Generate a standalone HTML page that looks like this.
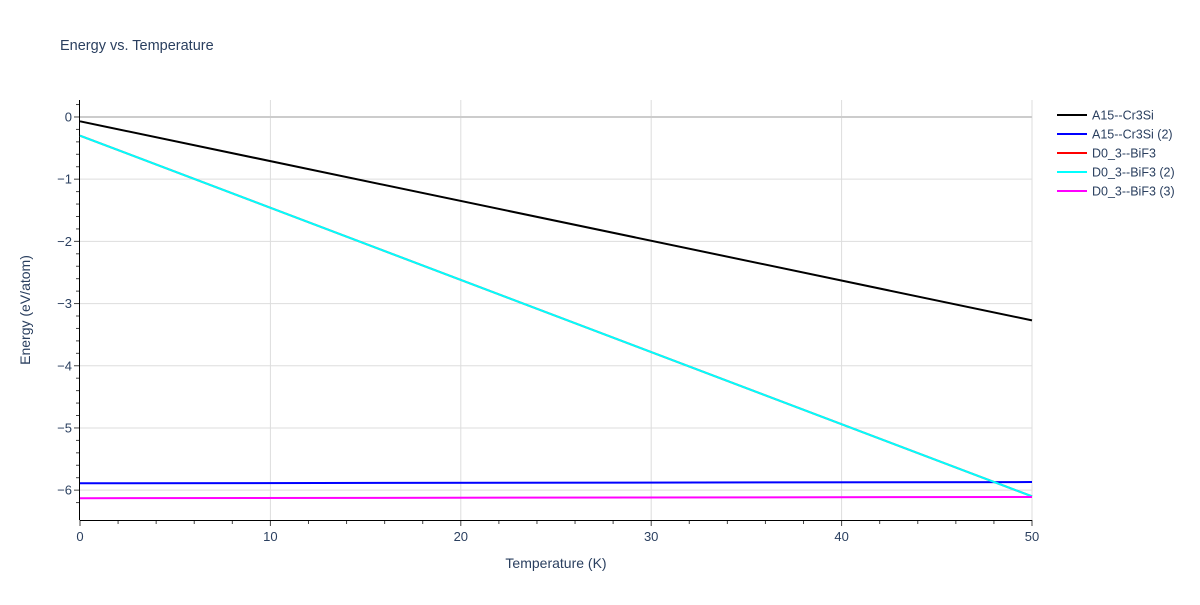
<!DOCTYPE html>
<html><head><meta charset="utf-8"><style>
body{margin:0;background:#fff;font-family:"Liberation Sans",sans-serif;}
svg text{font-family:"Liberation Sans",sans-serif;}
</style></head><body>
<svg id="chart" width="1200" height="600">
<text x="60" y="50" font-size="14.5" fill="#2a3f5f">Energy vs. Temperature</text>
<g id="grid"></g><g id="axes"></g><g id="series"></g><g id="legend"></g>
<text x="556" y="568" font-size="14" fill="#2a3f5f" text-anchor="middle">Temperature (K)</text>
<text transform="translate(30,310) rotate(-90)" font-size="14" fill="#2a3f5f" text-anchor="middle">Energy (eV/atom)</text>
</svg>
<script>
const seriesNames=["A15--Cr3Si","A15--Cr3Si (2)","D0_3--BiF3","D0_3--BiF3 (2)","D0_3--BiF3 (3)"];
const seriesColors=["#000000","#0000ff","#ff0000","#00ffff","#ff00ff"];
const temps=[0,50];
const energyA15=[-0.07,-3.27];
const energyA15b=[-5.89,-5.87];
const energyD03=[-0.3,-6.1];
const energyD03b=[-0.3,-6.1];
const energyD03c=[-6.13,-6.11];
const xTicks=[0,10,20,30,40,50];
const yTicks=[0,-1,-2,-3,-4,-5,-6];
const allSeries=[energyA15,energyA15b,energyD03,energyD03b,energyD03c];
const NS="http://www.w3.org/2000/svg";
const L=80,R=1032,T=100,B=520,yMax=0.273,yMin=-6.48;
const xs=v=>L+(v-0)/(50-0)*(R-L);
const ys=v=>T+(yMax-v)/(yMax-yMin)*(B-T);
function mk(tag,attrs,parent,text){const e=document.createElementNS(NS,tag);for(const k in attrs)e.setAttribute(k,attrs[k]);if(text!==undefined)e.textContent=text;parent.appendChild(e);return e;}
const grid=document.getElementById('grid'),axes=document.getElementById('axes'),ser=document.getElementById('series'),leg=document.getElementById('legend');
xTicks.forEach(t=>{
 if(t>0){const g=mk('line',{x1:xs(t),x2:xs(t),y1:T,y2:B,stroke:'#dddddd','stroke-width':1},grid);
 
 }
 const l=mk('text',{x:xs(t),y:B+21,'font-size':13,fill:'#2a3f5f','text-anchor':'middle'},axes,String(t));
 
 
});
for(let t=0;t<=50;t+=2){mk('line',{x1:xs(t),x2:xs(t),y1:B,y2:B+(t%10===0?6:4),stroke:'#444','stroke-width':1},axes);}
yTicks.forEach(t=>{
 const g=mk('line',{x1:L,x2:R,y1:ys(t),y2:ys(t),stroke:t===0?'#cccccc':'#dddddd','stroke-width':t===0?2:1},grid);
 
 
 const l=mk('text',{x:L-8,y:ys(t)+4.5,'font-size':13,fill:'#2a3f5f','text-anchor':'end'},axes,t===0?'0':'\u2212'+Math.abs(t));
 
 
});
for(let t=0.2;t>=-6.4;t-=0.2){const r=Math.round(t*10)/10;mk('line',{x1:L-(Number.isInteger(r)?6:4),x2:L,y1:ys(r),y2:ys(r),stroke:'#444','stroke-width':1},axes);}
mk('line',{x1:L-0.5,x2:L-0.5,y1:T,y2:B,stroke:'#000','stroke-width':1},axes);
mk('line',{x1:L,x2:R,y1:B+0.5,y2:B+0.5,stroke:'#000','stroke-width':1},axes);
allSeries.forEach((s,i)=>{
 const p=mk('polyline',{points:temps.map((t,j)=>xs(t)+','+ys(s[j])).join(' '),fill:'none',stroke:seriesColors[i],'stroke-width':2},ser);
 
 
 const g=mk('g',{},leg);
 
 
 const y=115+i*19;
 mk('line',{x1:1057,x2:1087,y1:y,y2:y,stroke:seriesColors[i],'stroke-width':2},g);
 mk('text',{x:1092,y:y+4.5,'font-size':12.5,fill:'#2a3f5f'},g,seriesNames[i]);
});
</script>
</body></html>
